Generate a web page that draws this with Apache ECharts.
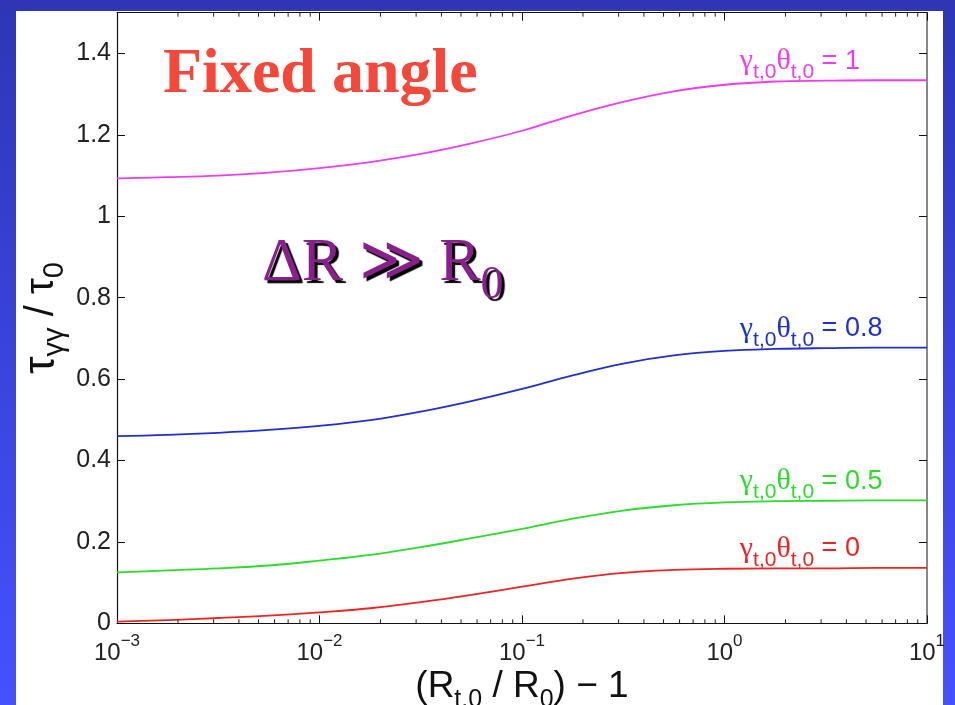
<!DOCTYPE html>
<html><head><meta charset="utf-8">
<script src="https://cdn.jsdelivr.net/npm/echarts@6/dist/echarts.min.js"></script>
<style>
html,body{margin:0;padding:0;width:955px;height:705px;overflow:hidden;background:linear-gradient(to bottom,#2E36B5,#4651FF);}
#panel{position:absolute;left:16px;top:11px;width:927px;height:694px;background:#fff;}
#chart{position:absolute;left:0;top:0;width:955px;height:705px;}
</style></head><body>
<div id="panel"></div><div id="chart"></div>
<script>
// sample positions (R_t,0/R_0 - 1), log spaced
const xValues = [0.001, 0.00178, 0.00316, 0.00562, 0.01, 0.0178, 0.0316, 0.0562, 0.1, 0.178, 0.316, 0.562, 1, 1.78, 3.16, 5.62, 10];
// tau_gg / tau_0 for each gamma*theta
const curve1  = [1.093, 1.096, 1.100, 1.107, 1.118, 1.133, 1.153, 1.179, 1.210, 1.248, 1.281, 1.307, 1.323, 1.331, 1.333, 1.334, 1.334];
const curve08 = [0.460, 0.463, 0.468, 0.475, 0.485, 0.499, 0.520, 0.546, 0.576, 0.609, 0.638, 0.658, 0.669, 0.674, 0.676, 0.677, 0.677];
const curve05 = [0.125, 0.130, 0.135, 0.142, 0.154, 0.168, 0.187, 0.209, 0.232, 0.257, 0.277, 0.290, 0.297, 0.300, 0.301, 0.302, 0.302];
const curve0  = [0.004, 0.008, 0.013, 0.019, 0.027, 0.037, 0.052, 0.070, 0.090, 0.110, 0.124, 0.131, 0.134, 0.135, 0.135, 0.136, 0.136];
const curveValues = ['1', '0.8', '0.5', '0'];
const minorTicks = [0.002,0.003,0.004,0.005,0.006,0.007,0.008,0.009,
  0.02,0.03,0.04,0.05,0.06,0.07,0.08,0.09,
  0.2,0.3,0.4,0.5,0.6,0.7,0.8,0.9,
  2,3,4,5,6,7,8,9];
const xMin = 0.001, xMax = 10, yMin = 0, yMax = 1.5, yStep = 0.2;

const chart = echarts.init(document.getElementById('chart'), null, {renderer: 'canvas'});
const SANS = '"Liberation Sans", Arial, Helvetica, sans-serif';
const SERIF = '"Liberation Serif", "DejaVu Serif", serif';
const colors = ['#F03CF0', '#1F2FD6', '#2BDD2B', '#EE2424'];
const datasets = [curve1, curve08, curve05, curve0];

function curveLabelRich() {
  return {
    g: {fontFamily: SERIF, fontSize: 30},
    s: {fontFamily: SANS, fontSize: 21, lineHeight: 21, padding: [22, 0, 0, 0]},
    n: {fontFamily: SANS, fontSize: 27}
  };
}

const lineSeries = datasets.map((arr, i) => ({
  type: 'line',
  name: 'γθ=' + curveValues[i],
  data: xValues.map((x, k) => [x, arr[k]]),
  showSymbol: false,
  smooth: 0.4,
  lineStyle: {color: colors[i], width: 1.8},
  itemStyle: {color: colors[i]},
  z: 3,
  markPoint: {
    silent: true,
    symbol: 'circle',
    symbolSize: 0,
    data: [{coord: [1.19, arr[arr.length - 1]]}],
    label: {
      show: true,
      position: 'right',
      distance: 0,
      offset: [0, -19],
      color: colors[i],
      formatter: '{g|γ}{s|t,0}{g|θ}{s|t,0}{n| = ' + curveValues[i] + '}',
      rich: curveLabelRich()
    }
  }
}));

const minorSeries = {
  type: 'custom',
  silent: true,
  clip: false,
  z: 4,
  data: minorTicks.map(v => [v, yMin]),
  renderItem: function (params, api) {
    const x = api.value(0);
    const b = api.coord([x, yMin]);
    const t = api.coord([x, yMax]);
    return {type: 'group', children: [
      {type: 'line', shape: {x1: b[0], y1: b[1], x2: b[0], y2: b[1] - 4}, style: {stroke: '#222', lineWidth: 1}},
      {type: 'line', shape: {x1: t[0], y1: t[1], x2: t[0], y2: t[1] + 4}, style: {stroke: '#222', lineWidth: 1}}
    ]};
  }
};

function xLabel(v) {
  const e = Math.round(Math.log10(v));
  return '{b|10}{s|' + (e < 0 ? '\u2212' + (-e) : String(e)) + '}';
}

const option = {
  animation: false,
  backgroundColor: 'transparent',
  grid: {left: 117, right: 28, top: 12.7, bottom: 81.7, containLabel: false, outerBoundsMode: 'none'},
  xAxis: [{
    type: 'log', logBase: 10, min: xMin, max: xMax, position: 'bottom',
    axisLine: {onZero: false, lineStyle: {color: '#111', width: 1.2}},
    axisTick: {inside: true, length: 8, lineStyle: {color: '#111', width: 1}},
    splitLine: {show: false},
    axisLabel: {
      margin: 10, color: '#222',
      formatter: xLabel,
      rich: {
        b: {fontFamily: SANS, fontSize: 24, color: '#222', lineHeight: 32, verticalAlign: 'bottom'},
        s: {fontFamily: SANS, fontSize: 17, color: '#222', lineHeight: 17, verticalAlign: 'top'}
      }
    },
    name: '(R{s|t,0} / R{s|0}) \u2212 1',
    nameLocation: 'middle',
    nameGap: 45,
    nameMoveOverlap: false,
    nameTextStyle: {
      fontFamily: SANS, fontSize: 37, color: '#111',
      rich: {s: {fontFamily: SANS, fontSize: 25, color: '#111', lineHeight: 25, padding: [26, 0, 0, 0]}}
    }
  }, {
    type: 'log', logBase: 10, min: xMin, max: xMax, position: 'top',
    axisLine: {onZero: false, lineStyle: {color: '#111', width: 1.2}},
    axisTick: {inside: true, length: 8, lineStyle: {color: '#111', width: 1}},
    axisLabel: {show: false},
    splitLine: {show: false}
  }],
  yAxis: [{
    type: 'value', min: yMin, max: yMax, interval: yStep, position: 'left',
    axisLine: {show: true, onZero: false, lineStyle: {color: '#111', width: 1.2}},
    axisTick: {show: true, inside: true, length: 8, lineStyle: {color: '#111', width: 1}},
    splitLine: {show: false},
    axisLabel: {
      margin: 6, color: '#222', fontFamily: SANS, fontSize: 25,
      formatter: v => (v > 1.45 ? '' : String(Math.round(v * 10) / 10))
    },
    name: '{t|τ}{s|γγ}{n| / τ}{s|0}',
    nameLocation: 'middle',
    nameRotate: 90,
    nameGap: 53,
    nameMoveOverlap: false,
    nameTextStyle: {
      color: '#111',
      rich: {
        t: {fontFamily: SANS, fontSize: 44, color: '#111'},
        n: {fontFamily: SANS, fontSize: 40, color: '#111'},
        s: {fontFamily: SANS, fontSize: 29, color: '#111', lineHeight: 29, padding: [26, 0, 0, 0]}
      }
    }
  }, {
    type: 'value', min: yMin, max: yMax, interval: yStep, position: 'right',
    axisLine: {show: true, onZero: false, lineStyle: {color: '#888', width: 2}},
    axisTick: {show: true, inside: true, length: 8, lineStyle: {color: '#111', width: 1}},
    axisLabel: {show: false},
    splitLine: {show: false}
  }],
  graphic: [
    {type: 'text', x: 163, y: 75, z: 10, style: {
      text: 'Fixed angle', font: 'bold 64px ' + SERIF, fill: '#F4493A', align: 'left', verticalAlign: 'middle'
    }},
    {type: 'text', x: 262, y: 233, z: 10, style: {
      text: '{a|ΔR \u226B R}{s|0}', align: 'left', verticalAlign: 'top',
      fill: '#8A1E8C',
      textShadowColor: '#000', textShadowOffsetX: 3, textShadowOffsetY: 3, textShadowBlur: 1,
      rich: {
        a: {fontFamily: SERIF, fontSize: 62, lineHeight: 62, verticalAlign: 'top', fill: '#8A1E8C',
            textShadowColor: '#000', textShadowOffsetX: 3, textShadowOffsetY: 3, textShadowBlur: 1},
        s: {fontFamily: SERIF, fontSize: 46, lineHeight: 46, padding: [30, 0, 0, 0], verticalAlign: 'top', fill: '#8A1E8C',
            textShadowColor: '#000', textShadowOffsetX: 3, textShadowOffsetY: 3, textShadowBlur: 1}
      }
    }}
  ],
  series: lineSeries.concat([minorSeries])
};
chart.setOption(option);
</script>
</body></html>
